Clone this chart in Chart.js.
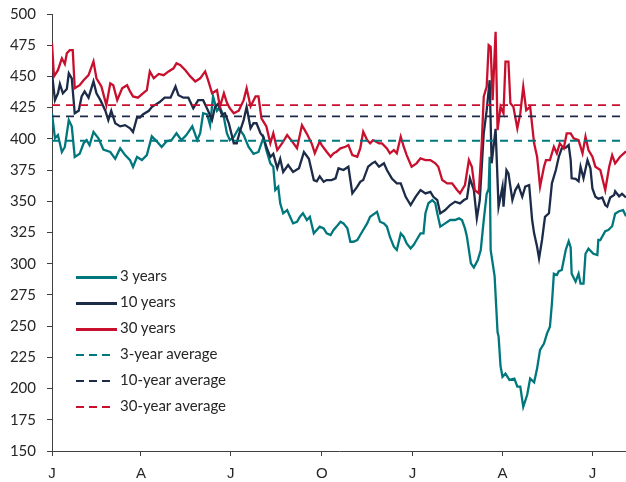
<!DOCTYPE html>
<html>
<head>
<meta charset="utf-8">
<script src="https://cdn.jsdelivr.net/npm/chart.js@4.4.1/dist/chart.umd.min.js"></script>
<style>
  body { margin: 0; background: #fff; }
  #wrap { position: relative; width: 626px; height: 482px; }
  #legend { position: absolute; left: 76px; top: 265px; font: 15px Lato, sans-serif; color: #262626; }
  .item { position: relative; height: 26px; }
  .swatch { position: absolute; left: 0; top: 11px; }
  .txt { position: absolute; left: 44px; top: 1px; white-space: nowrap; }
</style>
</head>
<body>
<div id="wrap">
  <canvas id="chart" width="626" height="482"></canvas>
  <div id="legend"></div>
</div>
<script>
'use strict'

// x positions are days since the first January shown
const tickDays = [0, 90, 181, 273, 365, 456, 547];
const tickLabels = ['J', 'A', 'J', 'O', 'J', 'A', 'J'];

const seriesNames = ['3 years', '10 years', '30 years'];
const avgNames = ['3-year average', '10-year average', '30-year average'];
const avgValues = [398.5, 418, 427];

const days3y = [0,3,6,10,13,17,20,23,28,32,35,38,42,47,52,59,64,69,74,79,82,86,91,96,101,106,111,116,121,126,131,136,142,147,150,153,157,160,163,167,170,174,177,180,184,189,194,199,204,209,214,217,221,224,226,229,231,234,238,241,244,248,251,254,258,261,265,268,271,275,278,282,285,288,292,295,299,302,305,309,312,315,319,322,329,332,336,339,342,346,349,353,356,359,363,366,369,373,376,378,381,385,388,390,393,398,403,408,412,415,418,420,424,427,431,434,437,440,442,443,444,448,451,452,454,456,459,463,468,471,474,477,481,484,488,491,494,498,501,504,506,508,511,513,516,520,523,525,526,530,533,535,538,540,543,548,552,553,555,560,563,567,570,574,578,581];
const vals3y = [420.5,400.5,403,389.5,393.5,415,410,385.5,388,396.5,399,395,405.5,400.5,391.5,389.5,384,392.5,387,383,377.5,385.5,383,387,402,398,393.5,398,399,404.5,399,403,410,399,404.5,420.5,419.5,411,434,422.5,425.5,417,404.5,399,401.5,408.5,403,393.5,388,389.5,401,391,380.4,377.7,359,361.7,348.4,340.4,343,337.6,332.3,333.6,337.6,340.4,335,337.6,324.3,327,329.7,328.3,324.3,323,327,329.7,333.6,332.3,328.3,317.6,317.6,319,323,327,332.3,337.6,341.6,333.6,332.3,329.7,321.6,313.6,311,324.3,321.6,316.3,312.3,315,319,324.3,324.3,340.4,348.4,351,348.4,340.4,329.7,332.3,335,335,336.3,335,328.3,321.6,300.3,297,303,311,335,356,360,385.7,311,290,245,242,218,209.5,212,207,208,201.5,201.5,185.4,195,208,205,216,231,236,244,249.5,268,292,291,294,295,311,318,313,292,285.6,292,284,284,308,312,308,307,319,319,326,327,330,340,342,343,338];

const days10y = [0,3,6,8,11,15,17,20,23,27,30,33,37,42,45,49,54,57,60,64,69,74,79,82,86,89,92,98,101,104,109,114,120,125,128,133,138,143,148,153,158,162,165,168,172,175,179,184,187,190,194,197,201,204,207,211,214,217,221,224,228,231,234,239,244,250,255,260,265,268,271,275,278,283,287,290,295,300,304,309,312,315,320,324,327,331,336,339,344,349,353,358,363,368,373,378,383,386,390,393,398,403,408,413,417,420,423,427,430,433,437,440,443,445,449,452,456,457,460,462,466,469,472,476,479,483,486,488,491,493,496,499,503,506,510,513,516,520,523,525,526,530,533,535,538,542,545,547,550,553,557,560,562,565,569,570,574,577,581];
const vals10y = [452.5,431,436.5,444,436.5,440,452.5,448.5,420.5,422.5,434,438,433,446,436.5,431,422.5,415,422.5,412.5,410,411,408.5,405.5,417,417,419.5,422.5,425.5,427,429.5,433,433,442,435,433,433,424.5,431,431,422.5,415,425.5,428,419.5,420.5,412.5,396.5,396.5,405.5,415,425.5,408.5,412.5,412.5,404.5,401.5,393.5,385.5,388,376.5,384,373.5,379,373.5,376.5,389.5,384,367,366,370,365.6,367,367,368.3,376.4,375,377.7,356.3,361.7,365.6,367,377.7,380.4,381.7,377.7,380.4,375,368.3,364.3,364.3,353.6,347,353.6,359,356.3,357.6,353.6,351,340.3,343,347,349.7,348.3,351,352.3,368.3,359,336.3,351,404.5,423,447,380.4,408,345.6,361.7,345.6,375,372.4,351,359,363,353.6,361.7,363,335,324.3,313.6,304.3,319,337.6,340.4,364.4,375,385.7,392.4,393,395,383,368.4,368,366,377.7,368.4,383,376.4,360.3,353.7,352,353,347,345.7,353,355,358,354,356,353];

const days30y = [0,2,6,10,13,15,18,21,23,28,32,37,42,45,50,55,59,62,66,71,76,79,82,87,92,96,99,103,108,113,118,123,126,130,135,140,145,150,155,158,162,167,170,174,177,180,184,189,194,197,201,206,209,212,217,221,224,228,233,238,243,248,253,258,263,266,271,273,278,282,285,288,292,297,300,304,309,312,315,319,322,325,331,334,339,342,346,349,353,356,359,364,369,373,378,383,388,391,395,400,405,410,413,418,422,425,428,432,435,437,440,442,444,446,449,451,454,457,459,462,464,467,471,474,477,480,484,488,491,494,498,500,504,508,511,514,518,521,525,528,533,537,540,543,547,550,555,560,564,567,570,575,581];
const vals30y = [476.5,450,455,464.5,460,468.5,471,471,440.5,443,447,451,462,448.5,442,427,444.5,443,431,440.5,443,438,434,433,436.5,439,454,448.5,452,451,454,456.5,460.5,459,455,450,446,448.5,454,447,436.5,439,425.7,436.5,429,424.5,420.5,422.5,431,440.5,426,434,434,416.5,410,396.5,404.5,391,396.5,403,398,392.5,411,404,396,388.5,398,395,389.7,385.7,388.4,389.7,392.4,393.7,395,387,385.7,392.4,405.7,399,396.4,399,396.4,396.4,392.4,388.4,391,388.4,401.7,393.7,387,377.7,380.4,384.4,383,383,380.4,377.7,367,364.3,364.3,359,356.3,363,383,377.7,359,356.3,396.4,433.8,441.8,475,473.7,431,485.8,407,425.7,420.4,461.8,461.8,428.5,425.7,408.4,420.4,441.8,423,425.7,396.4,385.7,361.7,377.7,383,383,393.7,388.4,396.4,392.4,404.4,404.4,400.4,399,388.4,401.7,391,385.7,377.7,375,359,377.7,387,380.4,385.7,390];

const xMin = 0;
const xMax = 581;

const seriesColors = ['#00777d', '#1c2b48', '#c8102e'];

function points(days, vals) {
  return days.map((d, i) => ({ x: d, y: vals[i] }));
}

const datasets = [
  { label: seriesNames[0], data: points(days3y, vals3y), borderColor: seriesColors[0], borderWidth: 2.3, order: 3 },
  { label: seriesNames[1], data: points(days10y, vals10y), borderColor: seriesColors[1], borderWidth: 2.3, order: 2 },
  { label: seriesNames[2], data: points(days30y, vals30y), borderColor: seriesColors[2], borderWidth: 2.3, order: 1 }
];
avgValues.forEach((v, i) => {
  datasets.push({
    label: avgNames[i],
    data: [{ x: xMin, y: v }, { x: xMax, y: v }],
    borderColor: seriesColors[i],
    borderWidth: 1.8,
    borderDash: [8, 6],
    order: 0
  });
});

const axisColor = '#404040';
const textColor = '#262626';

new Chart(document.getElementById('chart'), {
  type: 'line',
  data: { datasets },
  options: {
    responsive: false,
    animation: false,
    devicePixelRatio: 1,
    layout: { padding: { top: 14, right: 0, bottom: 0, left: 0 } },
    elements: { point: { radius: 0 }, line: { tension: 0 } },
    plugins: { legend: { display: false }, tooltip: { enabled: false } },
    scales: {
      x: {
        type: 'linear',
        min: xMin,
        max: xMax,
        afterBuildTicks: s => { s.ticks = tickDays.map(v => ({ value: v })); },
        afterFit: s => { s.height = 31; s.paddingLeft = 0; s.paddingRight = 0; },
        ticks: {
          callback: (v, i) => tickLabels[i],
          autoSkip: false,
          maxRotation: 0,
          padding: 9,
          color: textColor,
          font: { family: 'Liberation Sans', size: 15 }
        },
        grid: { drawOnChartArea: false, tickLength: 5, color: axisColor },
        border: { color: axisColor }
      },
      y: {
        min: 150,
        max: 500,
        afterFit: s => { s.width = 52; s.paddingTop = 0; s.paddingBottom = 0; },
        ticks: {
          stepSize: 25,
          padding: 11,
          color: textColor,
          font: { family: 'Lato', size: 15 }
        },
        grid: { drawOnChartArea: false, tickLength: 5, color: axisColor },
        border: { color: axisColor }
      }
    }
  }
});

// legend drawn as html, inside the plot area
const legend = document.getElementById('legend');
const legendItems = seriesNames.map((n, i) => ({ name: n, color: seriesColors[i], dashed: false }))
  .concat(avgNames.map((n, i) => ({ name: n, color: seriesColors[i], dashed: true })));
legendItems.forEach(it => {
  const row = document.createElement('div');
  row.className = 'item';
  const sw = document.createElement('div');
  sw.className = 'swatch';
  if (it.dashed) {
    sw.style.width = '34px';
    sw.style.height = '2px';
    sw.style.background = 'repeating-linear-gradient(to right, ' + it.color + ' 0 8px, transparent 8px 13px)';
  } else {
    sw.style.width = '41px';
    sw.style.height = '3px';
    sw.style.background = it.color;
  }
  const t = document.createElement('div');
  t.className = 'txt';
  t.textContent = it.name;
  row.appendChild(sw);
  row.appendChild(t);
  legend.appendChild(row);
});
</script>
</body>
</html>
